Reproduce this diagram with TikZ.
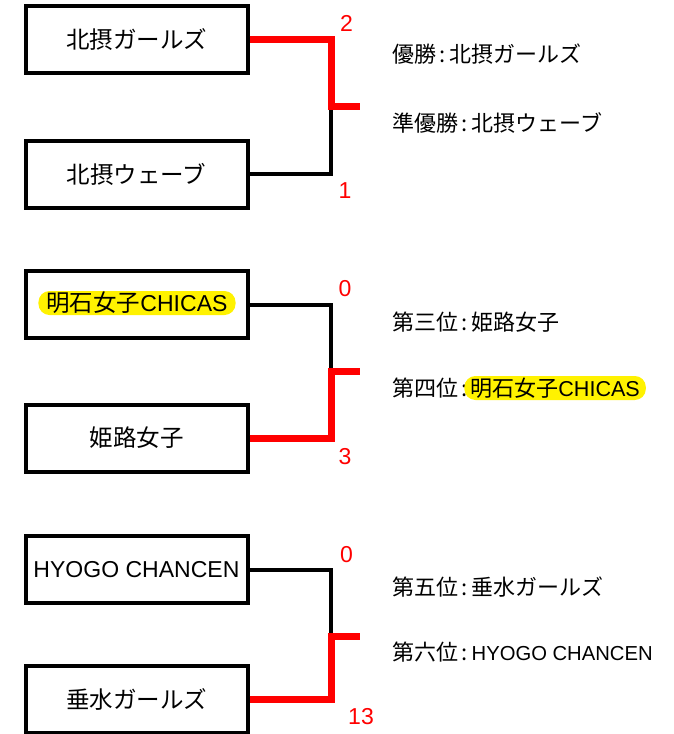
\documentclass[tikz,border=0pt]{standalone}
\usepackage{fontspec}
\setmainfont{Noto Sans CJK JP}
\newfontfamily\latinfont[Scale=0.98]{Liberation Sans}
\newfontfamily\latinsmall[Scale=0.92]{Liberation Sans}
\usetikzlibrary{positioning}

\begin{document}
\begin{tikzpicture}[x=1pt,y=-1pt,
  team/.style={rectangle, draw, line width=4pt, minimum width=222pt, minimum height=67pt, inner sep=0pt, font=\fontsize{23.5}{24}\selectfont},
  win/.style={red, line width=7pt},
  lose/.style={black, line width=4pt},
  score/.style={red, inner sep=0pt, font=\latinfont\fontsize{23.5}{24}\selectfont},
  result/.style={anchor=west, inner sep=0pt, font=\fontsize{22}{22}\selectfont},
  hilite/.style={fill=yellow, rounded corners=11pt, inner xsep=4pt, inner ysep=0pt, minimum height=24pt}]
\useasboundingbox (0,0) rectangle (674,734);

% Final
\node[team] (g1) at (136.5,39.5) {北摂ガールズ};
\node[team] (g2) at (136.5,174) {北摂ウェーブ};
\coordinate (j1) at (331,106);
\coordinate (e1) at (360,106);
\draw[lose] (g2.east) -| (j1);
\draw[win] (g1.east) -| (j1) -- (e1);
\node[score] (s1) at (346.5,23.5) {2};
\node[score] (s2) at (345,191) {1};

% Third place
\node[team] (a1) at (136.5,304.5) {};
\node[hilite, inner xsep=8pt, font=\fontsize{23.5}{24}\selectfont] (a1t) at (137,303) {明石女子{\latinfont CHICAS}};
\node[team] (h1) at (136.5,438) {姫路女子};
\coordinate (j2) at (331,371);
\coordinate (e2) at (360,371);
\draw[lose] (a1.east) -| (j2);
\draw[win] (h1.east) -| (j2) -- (e2);
\node[score] (s3) at (345,288.5) {0};
\node[score] (s4) at (345,456.5) {3};

% Fifth place
\node[team] (y1) at (136.5,569.5) {{\latinfont HYOGO CHANCEN}};
\node[team] (t1) at (136.5,699.5) {垂水ガールズ};
\coordinate (j3) at (331,636);
\coordinate (e3) at (360,636);
\draw[lose] (y1.east) -| (j3);
\draw[win] (t1.east) -| (j3) -- (e3);
\node[score] (s5) at (346.5,555) {0};
\node[score] (s6) at (361,716.5) {13};

% Results
\node[result] (r1) at (392,54) {優勝\,:\,北摂ガールズ};
\node[result] (r2) at (392,123) {準優勝\,:\,北摂ウェーブ};
\node[result] (r3) at (392,322) {第三位\,:\,姫路女子};
\node[result] (r4) at (392,388) {第四位\,:};
\node[result, hilite, inner xsep=6pt, right=-4pt of r4] (r4t) {明石女子{\latinfont CHICAS}};
\node[result] (r5) at (392,587) {第五位\,:\,垂水ガールズ};
\node[result] (r6) at (392,652) {第六位\,:\,{\latinsmall HYOGO CHANCEN}};
\end{tikzpicture}
\end{document}
